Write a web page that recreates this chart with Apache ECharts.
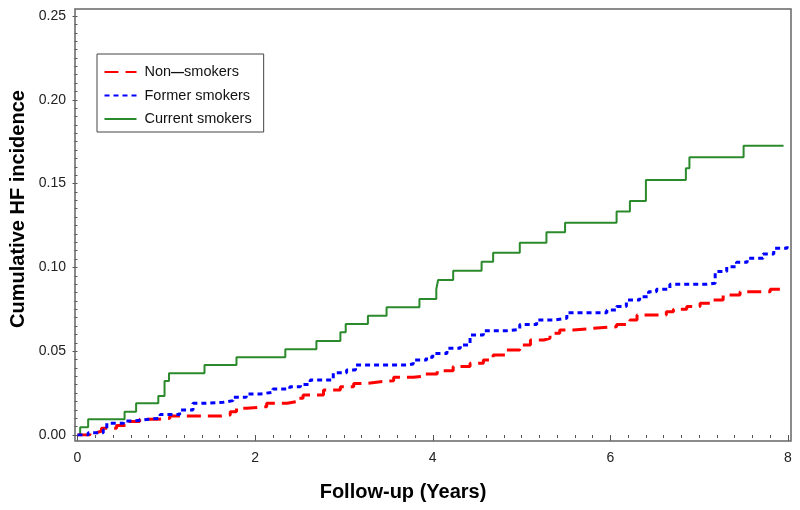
<!DOCTYPE html>
<html>
<head>
<meta charset="utf-8">
<script src="https://cdn.jsdelivr.net/npm/echarts@6/dist/echarts.min.js"></script>
<style>
html,body{margin:0;padding:0;background:#fff;}
#chart{width:800px;height:510px;}
</style>
</head>
<body>
<div id="chart"></div>
<script>
// ---- Data ----
const seriesNames = ['Non-smokers', 'Former smokers', 'Current smokers'];
const xTicks = [0, 2, 4, 6, 8];
const yTicks = [0.00, 0.05, 0.10, 0.15, 0.20, 0.25];

const nonSmokers = [
  [0,0],[0.14,0.0014],[0.22,0.0024],[0.27,0.004],[0.44,0.0056],[0.57,0.008],[0.70,0.0094],
  [0.91,0.01],[1.04,0.0113],[1.62,0.012],[1.72,0.0139],[1.79,0.0159],[1.9,0.0169],[2.13,0.0189],
  [2.36,0.0199],[2.47,0.0219],[2.54,0.0239],[2.77,0.0268],[2.96,0.0288],[3.11,0.0308],[3.26,0.0318],
  [3.41,0.0324],[3.56,0.0344],[3.78,0.0352],[3.91,0.0364],[4.05,0.0383],[4.23,0.0408],[4.42,0.0428],
  [4.57,0.0447],[4.68,0.0477],[4.83,0.0507],[4.98,0.0537],[5.10,0.0567],[5.25,0.0577],[5.32,0.0607],
  [5.43,0.0626],[5.58,0.0637],[5.81,0.0646],[6.07,0.066],[6.22,0.0686],[6.30,0.0716],[6.63,0.0736],
  [6.71,0.075],[6.86,0.0766],[7.01,0.0786],[7.12,0.0805],[7.27,0.0835],[7.46,0.0855],[7.80,0.0869],
  [7.95,0.0875]
];
const formerSmokers = [
  [0,0],[0.12,0.0014],[0.29,0.003],[0.33,0.007],[0.52,0.0084],[0.63,0.0095],[0.82,0.01],[0.93,0.0123],
  [1.15,0.0149],[1.30,0.0189],[1.42,0.0195],[1.64,0.0205],[1.75,0.0225],[1.90,0.0245],[2.06,0.0255],
  [2.2,0.0274],[2.39,0.0288],[2.51,0.0302],[2.62,0.0328],[2.88,0.0372],[3.03,0.0388],[3.13,0.0418],
  [3.71,0.0424],[3.78,0.0447],[3.93,0.0464],[4.0,0.0487],[4.16,0.0517],[4.31,0.0537],[4.42,0.0597],
  [4.57,0.0622],[4.83,0.063],[4.98,0.066],[5.17,0.0686],[5.36,0.0696],[5.51,0.073],[5.96,0.0746],
  [6.07,0.0766],[6.18,0.0805],[6.33,0.0825],[6.43,0.0855],[6.52,0.0869],[6.67,0.0899],[7.09,0.0905],
  [7.18,0.0975],[7.31,0.1004],[7.42,0.103],[7.54,0.1054],[7.72,0.108],[7.84,0.1114],[7.99,0.114]
];
const currentSmokers = [
  [0,0],[0.03,0.0046],[0.12,0.0094],[0.53,0.0139],[0.66,0.0189],[0.91,0.0233],[0.98,0.0322],
  [1.03,0.0368],[1.43,0.0418],[1.79,0.0464],[2.34,0.0511],[2.69,0.0561],[2.96,0.0613],[3.02,0.0662],
  [3.27,0.0712],[3.48,0.0762],[3.85,0.0811],[4.04,0.0870],[4.06,0.0925],[4.23,0.098],[4.55,0.1034],
  [4.68,0.1088],[4.98,0.1147],[5.28,0.121],[5.49,0.1267],[6.07,0.1333],[6.22,0.1396],[6.40,0.1521],
  [6.85,0.1591],[6.89,0.1657],[7.50,0.1726],[7.95,0.1726]
];

// ---- Chart ----
const FONT = '"Liberation Sans", Arial, sans-serif';
const chart = echarts.init(document.getElementById('chart'), null, {renderer: 'canvas'});

const G = {left: 77.5, right: 12, top: 16, bottom: 75};

const option = {
  backgroundColor: '#fff',
  animation: false,
  grid: {left: G.left, right: G.right, top: G.top, bottom: G.bottom, containLabel: false},
  xAxis: {
    type: 'value', min: xTicks[0], max: xTicks[xTicks.length - 1], interval: 2,
    offset: 6,
    axisLine: {show: false},
    axisTick: {show: true, length: 6, lineStyle: {color: '#555', width: 1}},
    minorTick: {show: true, splitNumber: 10, length: 3, lineStyle: {color: '#555', width: 1}},
    splitLine: {show: false},
    axisLabel: {color: '#222', fontSize: 14, fontFamily: FONT, margin: 10,
      formatter: v => String(v)}
  },
  yAxis: {
    type: 'value', min: yTicks[0], max: yTicks[yTicks.length - 1], interval: 0.05,
    offset: 2.5,
    axisLine: {show: false},
    axisTick: {show: true, length: 5, lineStyle: {color: '#555', width: 1}},
    minorTick: {show: true, splitNumber: 10, length: 3, lineStyle: {color: '#555', width: 1}},
    splitLine: {show: false},
    axisLabel: {color: '#222', fontSize: 14, fontFamily: FONT, margin: 9,
      formatter: v => v.toFixed(2)}
  },
  legend: {
    show: true,
    orient: 'vertical',
    left: 97, top: 54,
    padding: [10.5, 12, 5.5, 6.5],
    itemWidth: 32, itemHeight: 14, itemGap: 8.5,
    borderColor: '#444', borderWidth: 1,
    align: 'left',
    data: seriesNames,
    itemStyle: {opacity: 0},
    textStyle: {color: '#111', fontSize: 14.5, fontFamily: FONT, padding: [0,0,0,3],
      rich: {d: {fontWeight: 'bold', fontSize: 13, color: '#111', fontFamily: FONT}}},
    formatter: function (name) { return name.replace('-', '{d|—}'); }
  },
  graphic: [
    {type: 'rect', shape: {x: 75, y: 9, width: 716, height: 432}, silent: true, z: 10,
      style: {fill: 'none', stroke: '#666', lineWidth: 1.5}},
    {type: 'text', x: 18, y: 209, rotation: Math.PI / 2, z: 10,
      style: {text: 'Cumulative HF incidence', fill: '#000', font: 'bold 20px ' + FONT,
        align: 'center', verticalAlign: 'middle'}},
    {type: 'text', x: 403, y: 492, z: 10,
      style: {text: 'Follow-up (Years)', fill: '#000', font: 'bold 20px ' + FONT,
        align: 'center', verticalAlign: 'middle'}}
  ],
  series: [
    {name: seriesNames[0], type: 'line', step: 'end', data: nonSmokers, symbol: 'none',
      z: 3, lineStyle: {color: '#ff0000', width: 3, type: [14, 7]}, itemStyle: {color: '#ff0000'}},
    {name: seriesNames[1], type: 'line', step: 'end', data: formerSmokers, symbol: 'none',
      z: 4, lineStyle: {color: '#0000ff', width: 3, type: [5, 4]}, itemStyle: {color: '#0000ff'}},
    {name: seriesNames[2], type: 'line', step: 'end', data: currentSmokers, symbol: 'none',
      z: 2, lineStyle: {color: '#2b8a2b', width: 2, type: 'solid'}, itemStyle: {color: '#2b8a2b'}}
  ]
};
chart.setOption(option);
</script>
</body>
</html>
